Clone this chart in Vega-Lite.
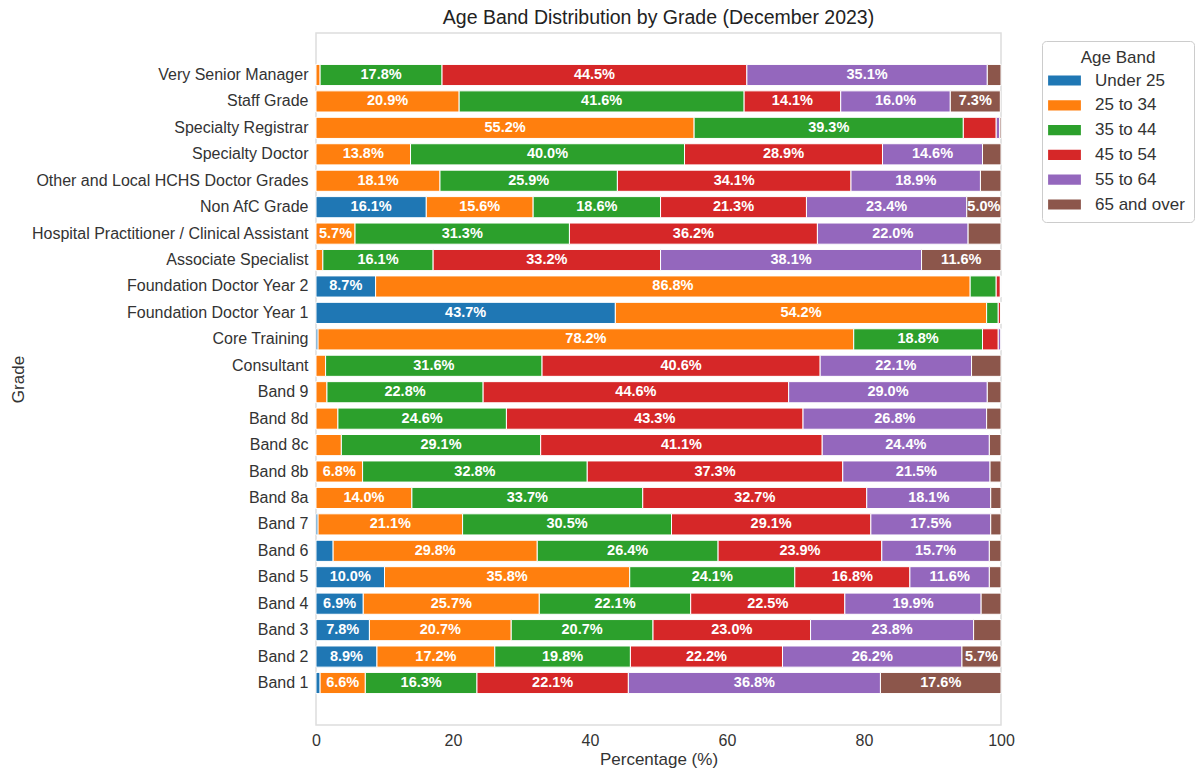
{
  "$schema": "https://vega.github.io/schema/vega-lite/v6.json",
  "autosize": {"type": "none"},
  "padding": {"left": 316, "top": 33, "right": 199, "bottom": 46},
  "width": 685,
  "height": 692,
  "background": "white",
  "title": {"text": "Age Band Distribution by Grade (December 2023)", "fontSize": 19.5, "fontWeight": "normal", "font": "Liberation Sans", "color": "#222222", "offset": 5, "anchor": "middle"},
  "config": {
    "font": "Liberation Sans",
    "view": {"stroke": "#dddddd", "strokeWidth": 1.5},
    "axis": {"labelFont": "Liberation Sans", "titleFont": "Liberation Sans", "labelColor": "#333333", "titleColor": "#333333", "labelFontSize": 16, "titleFontSize": 17, "titleFontWeight": "normal", "ticks": false, "domain": false, "grid": false}
  },
  "data": {"values": [
    {"grade": "Very Senior Manager", "band": "Under 25", "pct": 0},
    {"grade": "Very Senior Manager", "band": "25 to 34", "pct": 0.6},
    {"grade": "Very Senior Manager", "band": "35 to 44", "pct": 17.8},
    {"grade": "Very Senior Manager", "band": "45 to 54", "pct": 44.5},
    {"grade": "Very Senior Manager", "band": "55 to 64", "pct": 35.1},
    {"grade": "Very Senior Manager", "band": "65 and over", "pct": 2.0},
    {"grade": "Staff Grade", "band": "Under 25", "pct": 0},
    {"grade": "Staff Grade", "band": "25 to 34", "pct": 20.9},
    {"grade": "Staff Grade", "band": "35 to 44", "pct": 41.6},
    {"grade": "Staff Grade", "band": "45 to 54", "pct": 14.1},
    {"grade": "Staff Grade", "band": "55 to 64", "pct": 16.0},
    {"grade": "Staff Grade", "band": "65 and over", "pct": 7.3},
    {"grade": "Specialty Registrar", "band": "Under 25", "pct": 0},
    {"grade": "Specialty Registrar", "band": "25 to 34", "pct": 55.2},
    {"grade": "Specialty Registrar", "band": "35 to 44", "pct": 39.3},
    {"grade": "Specialty Registrar", "band": "45 to 54", "pct": 4.8},
    {"grade": "Specialty Registrar", "band": "55 to 64", "pct": 0.5},
    {"grade": "Specialty Registrar", "band": "65 and over", "pct": 0.2},
    {"grade": "Specialty Doctor", "band": "Under 25", "pct": 0},
    {"grade": "Specialty Doctor", "band": "25 to 34", "pct": 13.8},
    {"grade": "Specialty Doctor", "band": "35 to 44", "pct": 40.0},
    {"grade": "Specialty Doctor", "band": "45 to 54", "pct": 28.9},
    {"grade": "Specialty Doctor", "band": "55 to 64", "pct": 14.6},
    {"grade": "Specialty Doctor", "band": "65 and over", "pct": 2.7},
    {"grade": "Other and Local HCHS Doctor Grades", "band": "Under 25", "pct": 0},
    {"grade": "Other and Local HCHS Doctor Grades", "band": "25 to 34", "pct": 18.1},
    {"grade": "Other and Local HCHS Doctor Grades", "band": "35 to 44", "pct": 25.9},
    {"grade": "Other and Local HCHS Doctor Grades", "band": "45 to 54", "pct": 34.1},
    {"grade": "Other and Local HCHS Doctor Grades", "band": "55 to 64", "pct": 18.9},
    {"grade": "Other and Local HCHS Doctor Grades", "band": "65 and over", "pct": 3.0},
    {"grade": "Non AfC Grade", "band": "Under 25", "pct": 16.1},
    {"grade": "Non AfC Grade", "band": "25 to 34", "pct": 15.6},
    {"grade": "Non AfC Grade", "band": "35 to 44", "pct": 18.6},
    {"grade": "Non AfC Grade", "band": "45 to 54", "pct": 21.3},
    {"grade": "Non AfC Grade", "band": "55 to 64", "pct": 23.4},
    {"grade": "Non AfC Grade", "band": "65 and over", "pct": 5.0},
    {"grade": "Hospital Practitioner / Clinical Assistant", "band": "Under 25", "pct": 0},
    {"grade": "Hospital Practitioner / Clinical Assistant", "band": "25 to 34", "pct": 5.7},
    {"grade": "Hospital Practitioner / Clinical Assistant", "band": "35 to 44", "pct": 31.3},
    {"grade": "Hospital Practitioner / Clinical Assistant", "band": "45 to 54", "pct": 36.2},
    {"grade": "Hospital Practitioner / Clinical Assistant", "band": "55 to 64", "pct": 22.0},
    {"grade": "Hospital Practitioner / Clinical Assistant", "band": "65 and over", "pct": 4.8},
    {"grade": "Associate Specialist", "band": "Under 25", "pct": 0},
    {"grade": "Associate Specialist", "band": "25 to 34", "pct": 1.0},
    {"grade": "Associate Specialist", "band": "35 to 44", "pct": 16.1},
    {"grade": "Associate Specialist", "band": "45 to 54", "pct": 33.2},
    {"grade": "Associate Specialist", "band": "55 to 64", "pct": 38.1},
    {"grade": "Associate Specialist", "band": "65 and over", "pct": 11.6},
    {"grade": "Foundation Doctor Year 2", "band": "Under 25", "pct": 8.7},
    {"grade": "Foundation Doctor Year 2", "band": "25 to 34", "pct": 86.8},
    {"grade": "Foundation Doctor Year 2", "band": "35 to 44", "pct": 3.8},
    {"grade": "Foundation Doctor Year 2", "band": "45 to 54", "pct": 0.6},
    {"grade": "Foundation Doctor Year 2", "band": "55 to 64", "pct": 0.1},
    {"grade": "Foundation Doctor Year 2", "band": "65 and over", "pct": 0},
    {"grade": "Foundation Doctor Year 1", "band": "Under 25", "pct": 43.7},
    {"grade": "Foundation Doctor Year 1", "band": "25 to 34", "pct": 54.2},
    {"grade": "Foundation Doctor Year 1", "band": "35 to 44", "pct": 1.7},
    {"grade": "Foundation Doctor Year 1", "band": "45 to 54", "pct": 0.4},
    {"grade": "Foundation Doctor Year 1", "band": "55 to 64", "pct": 0},
    {"grade": "Foundation Doctor Year 1", "band": "65 and over", "pct": 0},
    {"grade": "Core Training", "band": "Under 25", "pct": 0.3},
    {"grade": "Core Training", "band": "25 to 34", "pct": 78.2},
    {"grade": "Core Training", "band": "35 to 44", "pct": 18.8},
    {"grade": "Core Training", "band": "45 to 54", "pct": 2.3},
    {"grade": "Core Training", "band": "55 to 64", "pct": 0.4},
    {"grade": "Core Training", "band": "65 and over", "pct": 0},
    {"grade": "Consultant", "band": "Under 25", "pct": 0},
    {"grade": "Consultant", "band": "25 to 34", "pct": 1.4},
    {"grade": "Consultant", "band": "35 to 44", "pct": 31.6},
    {"grade": "Consultant", "band": "45 to 54", "pct": 40.6},
    {"grade": "Consultant", "band": "55 to 64", "pct": 22.1},
    {"grade": "Consultant", "band": "65 and over", "pct": 4.3},
    {"grade": "Band 9", "band": "Under 25", "pct": 0},
    {"grade": "Band 9", "band": "25 to 34", "pct": 1.6},
    {"grade": "Band 9", "band": "35 to 44", "pct": 22.8},
    {"grade": "Band 9", "band": "45 to 54", "pct": 44.6},
    {"grade": "Band 9", "band": "55 to 64", "pct": 29.0},
    {"grade": "Band 9", "band": "65 and over", "pct": 2.0},
    {"grade": "Band 8d", "band": "Under 25", "pct": 0},
    {"grade": "Band 8d", "band": "25 to 34", "pct": 3.2},
    {"grade": "Band 8d", "band": "35 to 44", "pct": 24.6},
    {"grade": "Band 8d", "band": "45 to 54", "pct": 43.3},
    {"grade": "Band 8d", "band": "55 to 64", "pct": 26.8},
    {"grade": "Band 8d", "band": "65 and over", "pct": 2.1},
    {"grade": "Band 8c", "band": "Under 25", "pct": 0},
    {"grade": "Band 8c", "band": "25 to 34", "pct": 3.7},
    {"grade": "Band 8c", "band": "35 to 44", "pct": 29.1},
    {"grade": "Band 8c", "band": "45 to 54", "pct": 41.1},
    {"grade": "Band 8c", "band": "55 to 64", "pct": 24.4},
    {"grade": "Band 8c", "band": "65 and over", "pct": 1.7},
    {"grade": "Band 8b", "band": "Under 25", "pct": 0},
    {"grade": "Band 8b", "band": "25 to 34", "pct": 6.8},
    {"grade": "Band 8b", "band": "35 to 44", "pct": 32.8},
    {"grade": "Band 8b", "band": "45 to 54", "pct": 37.3},
    {"grade": "Band 8b", "band": "55 to 64", "pct": 21.5},
    {"grade": "Band 8b", "band": "65 and over", "pct": 1.6},
    {"grade": "Band 8a", "band": "Under 25", "pct": 0},
    {"grade": "Band 8a", "band": "25 to 34", "pct": 14.0},
    {"grade": "Band 8a", "band": "35 to 44", "pct": 33.7},
    {"grade": "Band 8a", "band": "45 to 54", "pct": 32.7},
    {"grade": "Band 8a", "band": "55 to 64", "pct": 18.1},
    {"grade": "Band 8a", "band": "65 and over", "pct": 1.5},
    {"grade": "Band 7", "band": "Under 25", "pct": 0.3},
    {"grade": "Band 7", "band": "25 to 34", "pct": 21.1},
    {"grade": "Band 7", "band": "35 to 44", "pct": 30.5},
    {"grade": "Band 7", "band": "45 to 54", "pct": 29.1},
    {"grade": "Band 7", "band": "55 to 64", "pct": 17.5},
    {"grade": "Band 7", "band": "65 and over", "pct": 1.5},
    {"grade": "Band 6", "band": "Under 25", "pct": 2.5},
    {"grade": "Band 6", "band": "25 to 34", "pct": 29.8},
    {"grade": "Band 6", "band": "35 to 44", "pct": 26.4},
    {"grade": "Band 6", "band": "45 to 54", "pct": 23.9},
    {"grade": "Band 6", "band": "55 to 64", "pct": 15.7},
    {"grade": "Band 6", "band": "65 and over", "pct": 1.7},
    {"grade": "Band 5", "band": "Under 25", "pct": 10.0},
    {"grade": "Band 5", "band": "25 to 34", "pct": 35.8},
    {"grade": "Band 5", "band": "35 to 44", "pct": 24.1},
    {"grade": "Band 5", "band": "45 to 54", "pct": 16.8},
    {"grade": "Band 5", "band": "55 to 64", "pct": 11.6},
    {"grade": "Band 5", "band": "65 and over", "pct": 1.7},
    {"grade": "Band 4", "band": "Under 25", "pct": 6.9},
    {"grade": "Band 4", "band": "25 to 34", "pct": 25.7},
    {"grade": "Band 4", "band": "35 to 44", "pct": 22.1},
    {"grade": "Band 4", "band": "45 to 54", "pct": 22.5},
    {"grade": "Band 4", "band": "55 to 64", "pct": 19.9},
    {"grade": "Band 4", "band": "65 and over", "pct": 2.9},
    {"grade": "Band 3", "band": "Under 25", "pct": 7.8},
    {"grade": "Band 3", "band": "25 to 34", "pct": 20.7},
    {"grade": "Band 3", "band": "35 to 44", "pct": 20.7},
    {"grade": "Band 3", "band": "45 to 54", "pct": 23.0},
    {"grade": "Band 3", "band": "55 to 64", "pct": 23.8},
    {"grade": "Band 3", "band": "65 and over", "pct": 4.0},
    {"grade": "Band 2", "band": "Under 25", "pct": 8.9},
    {"grade": "Band 2", "band": "25 to 34", "pct": 17.2},
    {"grade": "Band 2", "band": "35 to 44", "pct": 19.8},
    {"grade": "Band 2", "band": "45 to 54", "pct": 22.2},
    {"grade": "Band 2", "band": "55 to 64", "pct": 26.2},
    {"grade": "Band 2", "band": "65 and over", "pct": 5.7},
    {"grade": "Band 1", "band": "Under 25", "pct": 0.6},
    {"grade": "Band 1", "band": "25 to 34", "pct": 6.6},
    {"grade": "Band 1", "band": "35 to 44", "pct": 16.3},
    {"grade": "Band 1", "band": "45 to 54", "pct": 22.1},
    {"grade": "Band 1", "band": "55 to 64", "pct": 36.8},
    {"grade": "Band 1", "band": "65 and over", "pct": 17.6}
  ]},
  "transform": [
    {"calculate": "indexof(['Under 25','25 to 34','35 to 44','45 to 54','55 to 64','65 and over'], datum.band)", "as": "bandOrder"},
    {"stack": "pct", "groupby": ["grade"], "sort": [{"field": "bandOrder", "order": "ascending"}], "as": ["x0", "x1"]},
    {"calculate": "(datum.x0 + datum.x1) / 2", "as": "xm"},
    {"calculate": "format(datum.pct, '.1f') + '%'", "as": "label"}
  ],
  "encoding": {
    "y": {
      "field": "grade", "type": "nominal",
      "sort": ["Very Senior Manager", "Staff Grade", "Specialty Registrar", "Specialty Doctor", "Other and Local HCHS Doctor Grades", "Non AfC Grade", "Hospital Practitioner / Clinical Assistant", "Associate Specialist", "Foundation Doctor Year 2", "Foundation Doctor Year 1", "Core Training", "Consultant", "Band 9", "Band 8d", "Band 8c", "Band 8b", "Band 8a", "Band 7", "Band 6", "Band 5", "Band 4", "Band 3", "Band 2", "Band 1"],
      "scale": {"paddingInner": 0.2, "paddingOuter": 1, "range": [5, 687]},
      "axis": {"title": "Grade", "labelPadding": 8, "labelLimit": 400, "titleX": -298, "titleY": 346, "titleAngle": -90, "titleAlign": "center", "titleBaseline": "middle"}
    }
  },
  "layer": [
    {
      "mark": {"type": "bar", "stroke": "white", "strokeWidth": 1},
      "encoding": {
        "x": {"field": "x0", "type": "quantitative", "scale": {"domain": [0, 100], "nice": false}, "axis": {"title": "Percentage (%)", "values": [0, 20, 40, 60, 80, 100], "labelFlush": false, "labelPadding": 7, "titlePadding": 3}},
        "x2": {"field": "x1"},
        "color": {
          "field": "band", "type": "nominal",
          "scale": {"domain": ["Under 25", "25 to 34", "35 to 44", "45 to 54", "55 to 64", "65 and over"], "range": ["#1f77b4", "#ff7f0e", "#2ca02c", "#d62728", "#9467bd", "#8c564b"]},
          "legend": {
            "title": "Age Band", "orient": "none", "legendX": 726, "legendY": 8,
            "titleFontSize": 17, "titleFontWeight": "normal", "titleColor": "#333333", "titleAnchor": "middle", "titlePadding": 3,
            "labelFontSize": 17, "labelColor": "#333333", "labelOffset": 20, "labelLimit": 200,
            "symbolType": "M-1.6,-0.5H1.6V0.5H-1.6Z", "symbolSize": 420, "symbolOffset": 3, "symbolStrokeWidth": 0, "symbolOpacity": 1,
            "rowPadding": 5.8, "padding": 9, "strokeColor": "#cccccc", "fillColor": "white", "cornerRadius": 4
          }
        }
      }
    },
    {
      "transform": [{"filter": "datum.pct >= 5"}],
      "mark": {"type": "text", "color": "white", "fontWeight": "bold", "fontSize": 14.5, "font": "Liberation Sans", "align": "center", "baseline": "middle"},
      "encoding": {
        "x": {"field": "xm", "type": "quantitative"},
        "text": {"field": "label", "type": "nominal"}
      }
    }
  ]
}
